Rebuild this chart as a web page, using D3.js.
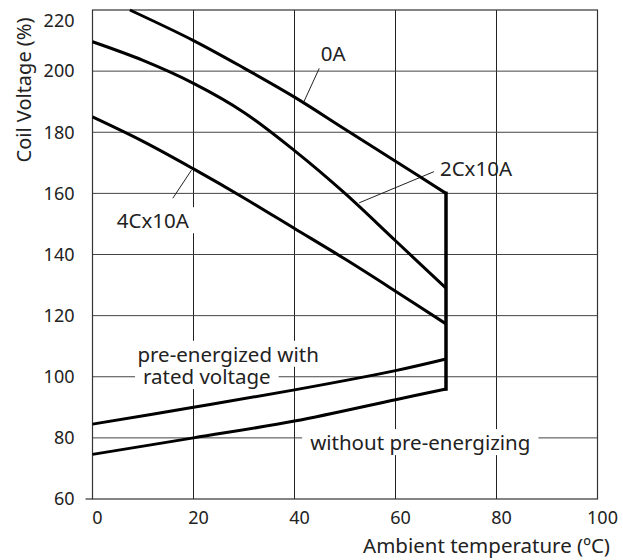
<!DOCTYPE html>
<html>
<head>
<meta charset="utf-8">
<script src="https://d3js.org/d3.v7.min.js"></script>
<style>
  body { margin: 0; background: #fff; }
  text { font-family: "Noto Sans", sans-serif; fill: #222; }
</style>
</head>
<body>
<div id="chart"></div>
<script>
// temperature (degC) / coil voltage (%)
var xTicks = [0, 20, 40, 60, 80, 100];
var yTicks = [60, 80, 100, 120, 140, 160, 180, 200, 220];

var curve0A   = [[7.4, 220], [20, 210], [30, 201], [40, 191.5], [50, 181], [60, 170.5], [70, 160]];
var curve2C   = [[0, 209.6], [10, 203.5], [20, 196], [30, 186.5], [40, 174], [50, 160], [60, 144.5], [70, 129]];
var curve4C   = [[0, 185], [10, 177], [20, 168], [30, 158.5], [40, 148.5], [50, 138.5], [60, 128], [70, 117.3]];
var curvePre  = [[0, 84.5], [20, 90], [40, 95.7], [60, 102], [70, 105.8]];
var curveCold = [[0, 74.6], [20, 80], [40, 85.5], [60, 92.5], [70, 96]];
var limitLine = [[70, 96], [70, 160]];

// annotation labels: text, x, y (data units), leader line from/to
var labels = [
  {text: "0A", x: 45.2, y: 203.4, lead: [[44.9, 200.9], [41.7, 189.4]], bg: false},
  {text: "2Cx10A", x: 68.8, y: 165.7, lead: [[67.6, 167.1], [52.8, 156.9]], bg: false},
  {text: "4Cx10A", x: 4.8, y: 148.6, lead: [[19.6, 167.6], [15.9, 158.4]], bg: true},
  {text: "pre-energized with", x: 8.9, y: 104.9, lead: null, bg: true},
  {text: "rated voltage", x: 10.0, y: 97.6, lead: null, bg: true},
  {text: "without pre-energizing", x: 43.1, y: 76.0, lead: null, bg: true}
];

var W = 623, H = 560;
var margin = {top: 10, left: 92.5, right: 25.5, bottom: 61};
var width = W - margin.left - margin.right,
    height = H - margin.top - margin.bottom;

var svg = d3.select("#chart").append("svg")
  .attr("width", W).attr("height", H);
var g = svg.append("g")
  .attr("transform", "translate(" + margin.left + "," + margin.top + ")");

var x = d3.scaleLinear().domain([0, 100]).range([0, width]);
var y = d3.scaleLinear().domain([60, 220]).range([height, 0]);

// grid
g.append("g").selectAll("line")
  .data(xTicks.slice(1, -1))
  .enter().append("line")
  .attr("x1", function(d) { return x(d); }).attr("x2", function(d) { return x(d); })
  .attr("y1", 0).attr("y2", height)
  .attr("stroke", "#222").attr("stroke-width", 1);
g.append("g").selectAll("line")
  .data(yTicks.slice(1, -1))
  .enter().append("line")
  .attr("x1", 0).attr("x2", width)
  .attr("y1", function(d) { return y(d); }).attr("y2", function(d) { return y(d); })
  .attr("stroke", "#444").attr("stroke-width", 1);

// frame
g.append("rect")
  .attr("x", 0).attr("y", 0).attr("width", width).attr("height", height)
  .attr("fill", "none").attr("stroke", "#333").attr("stroke-width", 1.2);
g.append("line")
  .attr("x1", -7).attr("x2", 0).attr("y1", height).attr("y2", height)
  .attr("stroke", "#333").attr("stroke-width", 1.2);

// tick labels (top one pushed down so it stays on the page)
g.append("g").selectAll("text")
  .data(yTicks)
  .enter().append("text")
  .attr("x", -18).attr("y", function(d) { return Math.max(y(d), 11); })
  .attr("dy", "0.35em")
  .attr("text-anchor", "end")
  .style("font-size", "18px")
  .text(function(d) { return d; });
g.append("g").selectAll("text")
  .data(xTicks)
  .enter().append("text")
  .attr("x", function(d) { return x(d) + 5; }).attr("y", height + 25)
  .attr("text-anchor", "middle")
  .style("font-size", "18px")
  .text(function(d) { return d; });

// axis titles
svg.append("text")
  .attr("transform", "translate(31,90) rotate(-90)")
  .attr("text-anchor", "middle")
  .style("font-size", "20px")
  .text("Coil Voltage (%)");
svg.append("text")
  .attr("x", 610).attr("y", 553)
  .attr("text-anchor", "end")
  .style("font-size", "20.5px")
  .text("Ambient temperature (ºC)");

// label backgrounds first, then texts on top
var bgLayer = g.append("g");
var lab = g.append("g");
labels.forEach(function(l) {
  var t = lab.append("text")
    .attr("x", x(l.x)).attr("y", y(l.y))
    .style("font-size", "20.5px")
    .text(l.text);
  if (l.bg) {
    var b = t.node().getBBox();
    bgLayer.append("rect").attr("fill", "#fff")
      .attr("x", b.x - 8).attr("y", b.y + 1)
      .attr("width", b.width + 16).attr("height", b.height - 2);
  }
  if (l.lead) {
    lab.append("line")
      .attr("x1", x(l.lead[0][0])).attr("y1", y(l.lead[0][1]))
      .attr("x2", x(l.lead[1][0])).attr("y2", y(l.lead[1][1]))
      .attr("stroke", "#222").attr("stroke-width", 1);
  }
});

// curves
var line = d3.line()
  .x(function(d) { return x(d[0]); })
  .y(function(d) { return y(d[1]); })
  .curve(d3.curveCatmullRom.alpha(0.5));

[curve0A, curve2C, curve4C, curvePre, curveCold].forEach(function(c) {
  g.append("path")
    .datum(c)
    .attr("d", line)
    .attr("fill", "none")
    .attr("stroke", "#000")
    .attr("stroke-width", 3);
});

g.append("path")
  .datum(limitLine)
  .attr("d", d3.line().x(function(d) { return x(d[0]); }).y(function(d) { return y(d[1]); }))
  .attr("fill", "none")
  .attr("stroke", "#000")
  .attr("stroke-width", 3.5)
  .attr("stroke-linecap", "square");
</script>
</body>
</html>
